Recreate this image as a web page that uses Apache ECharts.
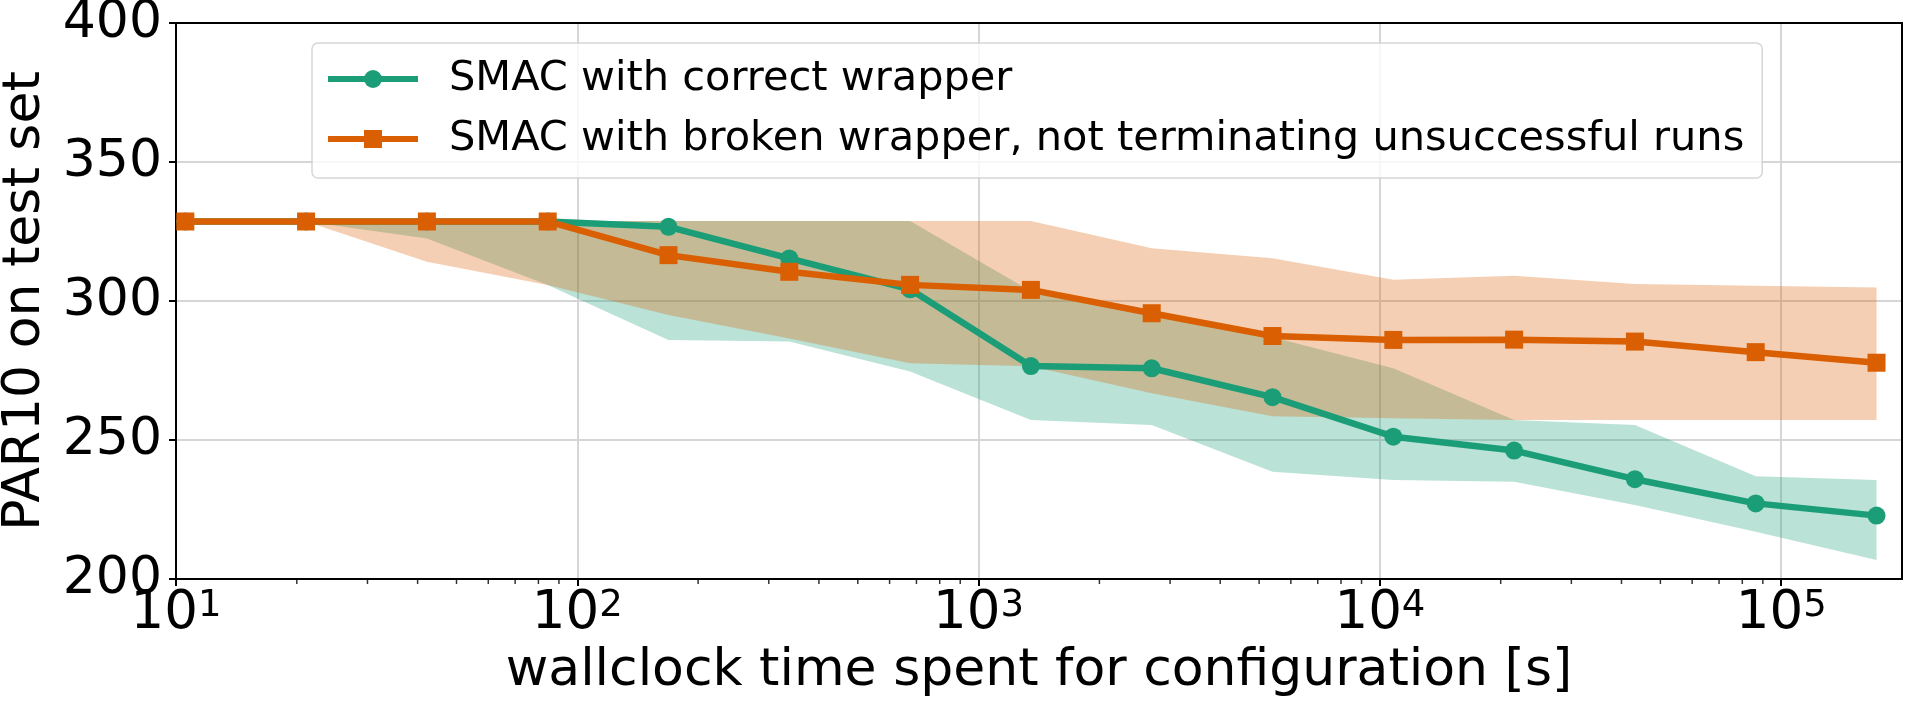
<!doctype html>
<html lang="en">
<head>
  <meta charset="UTF-8">
  <title>PAR10 on test set</title>
  <style>
    html, body { margin: 0; padding: 0; background: #fff; }
    #chart { width: 1913px; height: 707px; }
  </style>
  <script src="https://cdn.jsdelivr.net/npm/echarts@6/dist/echarts.min.js"></script>
</head>
<body>
  <div id="chart"></div>
  <script>
    // wallclock budget of each evaluation point [s]
    var times = [10.55, 21.09, 42.19, 84.38, 168.75, 337.5, 675, 1350, 2700, 5400, 10800, 21600, 43200, 86400, 172800];

    // SMAC with correct wrapper
    var correctMean = [328.6, 328.6, 328.6, 328.6, 326.7, 315.3, 304.2, 276.6, 275.8, 265.4, 251.2, 246.2, 235.9, 227.2, 222.8];
    var correctLow = [328.6, 328.6, 322.5, 305.8, 286.0, 285.4, 274.6, 257.2, 255.4, 238.6, 235.6, 235.0, 226.6, 217.0, 206.8];
    var correctHigh = [328.6, 328.7, 328.8, 328.8, 328.8, 328.8, 328.8, 303.5, 295.5, 287.0, 275.8, 257.2, 255.4, 237.0, 235.6];

    // SMAC with broken wrapper
    var brokenMean = [328.6, 328.6, 328.6, 328.6, 316.5, 310.5, 305.8, 304.0, 295.6, 287.4, 286.0, 286.1, 285.4, 281.6, 277.8];
    var brokenLow = [328.6, 328.6, 314.1, 305.8, 295.0, 286.5, 277.6, 276.5, 266.8, 258.5, 257.8, 257.2, 257.2, 257.2, 257.2];
    var brokenHigh = [328.6, 328.7, 328.8, 328.8, 328.8, 328.8, 328.8, 328.8, 319.0, 315.4, 307.6, 309.1, 306.1, 305.5, 304.9];

    var yTicks = [200, 250, 300, 350, 400];
    var minorTicks = [20, 30, 40, 50, 60, 70, 80, 90,
      200, 300, 400, 500, 600, 700, 800, 900,
      2000, 3000, 4000, 5000, 6000, 7000, 8000, 9000,
      20000, 30000, 40000, 50000, 60000, 70000, 80000, 90000];

    var names = ['SMAC with correct wrapper', 'SMAC with broken wrapper, not terminating unsuccessful runs'];
    var green = '#1b9e77';
    var orange = '#d95f02';
    var font = 'DejaVu Sans';

    function pairs(ys) {
      return times.map(function (t, i) { return [t, ys[i]]; });
    }

    // shaded band between lo and hi, one polygon through the axis scales
    function band(name, hi, lo, fill) {
      return {
        name: name, type: 'custom', silent: true,
        data: times.map(function (t, i) { return [t, lo[i], hi[i]]; }),
        encode: { x: 0, y: [1, 2] },
        renderItem: function (params, api) {
          if (params.dataIndex !== 0) return null;
          var pts = [];
          for (var i = 0; i < times.length; i++) pts.push(api.coord([times[i], hi[i]]));
          for (var j = times.length - 1; j >= 0; j--) pts.push(api.coord([times[j], lo[j]]));
          return { type: 'polygon', shape: { points: pts }, style: { fill: fill } };
        }
      };
    }

    var myChart = echarts.init(document.getElementById('chart'));

    var option = {
      animation: false,
      backgroundColor: '#fff',
      textStyle: { fontFamily: font },
      grid: {
        left: 176, right: 11, top: 23, bottom: 128,
        outerBoundsMode: 'none',
        containLabel: false,
        show: true, z: 3,
        backgroundColor: 'transparent',
        borderColor: '#000', borderWidth: 2
      },
      legend: {
        data: names,
        orient: 'vertical',
        left: 312, top: 43,
        padding: [15, 18, 18, 13],
        itemGap: 18,
        itemWidth: 90,
        itemHeight: 22.5,
        backgroundColor: 'rgba(255,255,255,0.8)',
        borderColor: 'rgba(204,204,204,0.8)',
        borderWidth: 1.5,
        borderRadius: 6,
        lineStyle: { width: 6 },
        textStyle: { fontSize: 41.5, fontFamily: font, color: '#000', padding: [0, 0, 0, 26] }
      },
      xAxis: {
        type: 'log',
        logBase: 10,
        min: 10,
        max: 200000,
        name: 'wallclock time spent for configuration [s]',
        nameLocation: 'middle',
        nameGap: 66,
        nameTextStyle: { fontSize: 52, fontFamily: font, color: '#000' },
        axisLine: { lineStyle: { color: '#000', width: 2 } },
        axisTick: { length: 7, lineStyle: { color: '#000', width: 2 } },
        splitLine: { show: true, lineStyle: { color: '#d6d6d6', width: 2 } },
        axisLabel: {
          margin: 9,
          color: '#000',
          showMaxLabel: false,
          formatter: function (v) {
            var l = Math.log10(v);
            var e = Math.round(l);
            if (Math.abs(l - e) > 1e-6) return '';
            return '{b|10}{s|' + e + '}';
          },
          rich: {
            b: { fontSize: 53, lineHeight: 52, fontFamily: font, color: '#000' },
            s: { fontSize: 37, lineHeight: 12, verticalAlign: 'top', fontFamily: font, color: '#000' }
          }
        }
      },
      yAxis: {
        type: 'value',
        min: yTicks[0],
        max: yTicks[yTicks.length - 1],
        interval: 50,
        name: 'PAR10 on test set',
        nameLocation: 'middle',
        nameGap: 115,
        nameTextStyle: { fontSize: 52, fontFamily: font, color: '#000' },
        axisLine: { show: true, lineStyle: { color: '#000', width: 2 } },
        axisTick: { show: true, length: 7, lineStyle: { color: '#000', width: 2 } },
        splitLine: { show: true, lineStyle: { color: '#d6d6d6', width: 2 } },
        axisLabel: { margin: 14, fontSize: 52, fontFamily: font, color: '#000' }
      },
      series: [
        band('correct-band', correctHigh, correctLow, 'rgba(27,158,119,0.3)'),
        band('broken-band', brokenHigh, brokenLow, 'rgba(217,95,2,0.3)'),
        {
          name: names[0], type: 'line', data: pairs(correctMean),
          color: green,
          symbol: 'circle', symbolSize: 18,
          lineStyle: { width: 6.5, color: green },
          itemStyle: { color: green }
        },
        {
          name: names[1], type: 'line', data: pairs(brokenMean),
          color: orange,
          symbol: 'rect', symbolSize: 18,
          lineStyle: { width: 6.5, color: orange },
          itemStyle: { color: orange }
        },
        {
          // minor ticks of the log axis
          name: 'minor-ticks', type: 'scatter', silent: true, z: 4,
          data: minorTicks.map(function (t) { return [t, yTicks[0]]; }),
          symbol: 'rect', symbolSize: [1.5, 4], symbolOffset: [0, 3],
          itemStyle: { color: '#000' }
        }
      ]
    };

    myChart.setOption(option);
  </script>
</body>
</html>
